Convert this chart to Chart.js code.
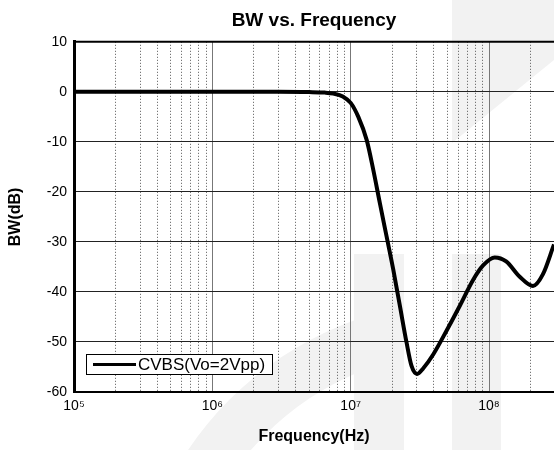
<!DOCTYPE html>
<html>
<head>
<meta charset="utf-8">
<script src="https://cdn.jsdelivr.net/npm/chart.js@4.4.1/dist/chart.umd.min.js"></script>
<style>
  html, body { margin: 0; padding: 0; background: #fff; }
  #wrap { width: 554px; height: 450px; }
</style>
</head>
<body>
<div id="wrap"><canvas id="bwChart" width="554" height="450"></canvas></div>
<script>
// data
const freqHz = [1e5, 1e6, 3e6, 5e6, 6.5e6, 7.5e6, 8.85e6, 1e7, 1.136e7, 1.305e7, 1.457e7,
  1.627e7, 1.818e7, 2.031e7, 2.269e7, 2.534e7, 2.754e7, 3.026e7, 3.34e7, 3.95e7, 4.92e7,
  6.14e7, 7.67e7, 9.06e7, 1.1e8, 1.33e8, 1.66e8, 2.08e8, 2.45e8, 2.95e8];
const bwDb = [0, 0, 0, -0.05, -0.15, -0.35, -1.0, -2.2, -5.0, -9.6, -15.6,
  -22.3, -28.9, -35.5, -42.8, -50.1, -54.8, -56.4, -55.3, -52.5, -47.8,
  -42.8, -37.6, -34.7, -33.1, -33.9, -36.9, -38.8, -36.5, -30.5];
const seriesLabel = 'CVBS(Vo=2Vpp)';
const decadeLabels = { 5: '10\u2075', 6: '10\u2076', 7: '10\u2077', 8: '10\u2078' };
const xMin = 1e5, xMax = 2.95e8;
const yMin = -60, yMax = 10;

function isDecade(v) {
  const l = Math.log10(v);
  return Math.abs(l - Math.round(l)) < 1e-9;
}

// faint watermark behind the plot
const watermark = {
  id: 'watermark',
  beforeDraw(chart) {
    const c = chart.ctx;
    c.save();
    c.fillStyle = '#f2f2f2';
    c.beginPath();
    c.moveTo(452, 0); c.lineTo(554, 0); c.lineTo(554, 60); c.lineTo(452, 143);
    c.closePath(); c.fill();
    c.fillRect(354, 254, 50, 196);
    c.fillRect(452, 254, 49, 196);
    // ring segment, clipped left of the first bar
    c.beginPath(); c.rect(0, 0, 354, 450); c.clip();
    c.beginPath();
    c.arc(470, 640, 340, Math.PI, Math.PI * 1.5);
    c.arc(470, 640, 290, Math.PI * 1.5, Math.PI, true);
    c.closePath();
    c.fill();
    c.restore();
  }
};

// top frame line + boxed legend inside the plot
const frameAndLegend = {
  id: 'frameAndLegend',
  afterDatasetsDraw(chart) {
    const c = chart.ctx;
    const a = chart.chartArea;
    c.save();
    c.strokeStyle = '#000';
    c.lineWidth = 2;
    c.beginPath();
    c.moveTo(a.left, a.top); c.lineTo(a.right, a.top);
    c.stroke();

    const ds = chart.data.datasets[0];
    c.fillStyle = '#fff';
    c.fillRect(86, 354, 186, 20);
    c.lineWidth = 1;
    c.strokeRect(86.5, 354.5, 186, 20);
    c.lineWidth = 3;
    c.beginPath();
    c.moveTo(93, 364.5); c.lineTo(136, 364.5);
    c.stroke();
    c.fillStyle = '#000';
    c.font = '17px "Liberation Sans", Arial, sans-serif';
    c.textBaseline = 'middle';
    c.fillText(ds.label, 138, 365);
    c.restore();
  }
};

const ctx = document.getElementById('bwChart').getContext('2d');
new Chart(ctx, {
  type: 'line',
  data: {
    datasets: [{
      label: seriesLabel,
      data: freqHz.map((f, i) => ({ x: f, y: bwDb[i] })),
      borderColor: '#000',
      borderWidth: 4,
      pointRadius: 0,
      cubicInterpolationMode: 'monotone',
      fill: false
    }]
  },
  options: {
    responsive: false,
    animation: false,
    layout: { padding: { left: 0, right: 0, top: 0, bottom: 0 } },
    plugins: {
      legend: { display: false },
      tooltip: { enabled: false },
      title: {
        display: true,
        text: 'BW vs. Frequency',
        fullSize: false,
        color: '#000',
        font: { family: '"Liberation Sans", Arial, sans-serif', size: 19, weight: 'bold' },
        padding: { top: 9, bottom: 10 }
      }
    },
    scales: {
      x: {
        type: 'logarithmic',
        min: xMin,
        max: xMax,
        afterBuildTicks(scale) {
          const ticks = [];
          for (let e = 5; e <= 8; e++) {
            for (let m = 1; m <= 9; m++) {
              const v = m * Math.pow(10, e);
              if (v <= xMax) ticks.push({ value: v });
            }
          }
          scale.ticks = ticks;
        },
        afterFit(scale) { scale.height = 58; },
        ticks: {
          autoSkip: false,
          maxRotation: 0,
          padding: 6,
          color: '#000',
          font: { family: '"Liberation Sans", Arial, sans-serif', size: 14 },
          callback(v) {
            return isDecade(v) ? decadeLabels[Math.round(Math.log10(v))] : '';
          }
        },
        grid: {
          drawTicks: false,
          lineWidth: 1,
          color: (c) => (c.tick && isDecade(c.tick.value)) ? '#777' : '#555'
        },
        border: {
          display: true,
          color: '#000',
          width: 2,
          dash: (c) => (c.tick && !isDecade(c.tick.value)) ? [1, 2] : []
        },
        title: {
          display: true,
          text: 'Frequency(Hz)',
          color: '#000',
          font: { family: '"Liberation Sans", Arial, sans-serif', size: 16, weight: 'bold' },
          padding: { top: 0, bottom: 4 }
        }
      },
      y: {
        min: yMin,
        max: yMax,
        afterFit(scale) { scale.width = 74; },
        ticks: {
          stepSize: 10,
          padding: 7,
          color: '#000',
          font: { family: '"Liberation Sans", Arial, sans-serif', size: 14 }
        },
        grid: {
          drawTicks: false,
          lineWidth: 1,
          color: '#222'
        },
        border: { display: true, color: '#000', width: 3 },
        title: {
          display: true,
          text: 'BW(dB)',
          color: '#000',
          font: { family: '"Liberation Sans", Arial, sans-serif', size: 16, weight: 'bold' },
          padding: { top: 6, bottom: 0 }
        }
      }
    }
  },
  plugins: [watermark, frameAndLegend]
});
</script>
</body>
</html>
